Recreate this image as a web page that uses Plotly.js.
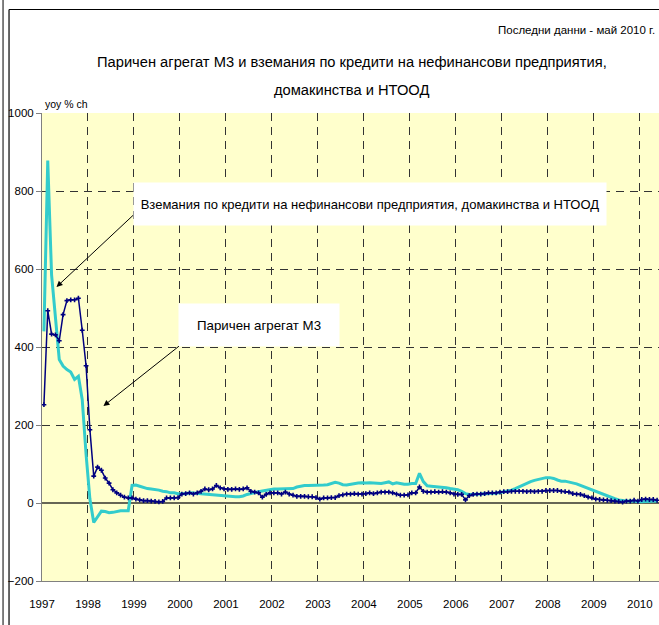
<!DOCTYPE html>
<html>
<head>
<meta charset="utf-8">
<script src="https://cdn.plot.ly/plotly-3.0.1.min.js"></script>
<style>html,body{margin:0;padding:0;background:#fff;}#chart{width:659px;height:625px;}</style>
</head>
<body>
<div id="chart"></div>
<script>
const years = ['1997','1998','1999','2000','2001','2002','2003','2004','2005','2006','2007','2008','2009','2010'];

const m3 = [
  252, 493, 433, 431, 416, 483, 519, 521, 521, 525, 443, 352,
  188, 69, 92, 84, 64, 51, 34, 26, 20, 15, 13, 13,
  10, 8, 6, 6, 5, 4, 3, 4, 13, 13, 13, 14,
  23, 24, 26, 23, 26, 30, 36, 34, 36, 45, 39, 36,
  35, 35, 36, 35, 36, 39, 30, 28, 26, 15, 22, 26,
  26, 26, 23, 28, 23, 20, 17, 17, 17, 16, 16, 14,
  10, 13, 13, 14, 14, 19, 21, 23, 23, 24, 23, 23,
  24, 26, 24, 26, 28, 28, 28, 26, 23, 20, 20, 21,
  26, 26, 41, 30, 28, 28, 29, 28, 29, 28, 26, 23,
  22, 22, 8, 19, 22, 23, 23, 24, 26, 26, 26, 28,
  29, 29, 30, 30, 30, 30, 29, 30, 29, 30, 30, 32,
  32, 32, 32, 30, 29, 28, 24, 23, 22, 19, 15, 13,
  10, 9, 8, 7, 6, 5, 4, 2, 5, 5, 7, 5,
  9, 10, 9, 9, 7
];

const credit = [
  440, 878, 585, 480, 368, 351, 342, 336, 317, 325, 265, 125,
  10, -50, -34, -21, -22, -25, -24, -22, -20, -20, -20, 45,
  46, 43, 39, 37, 36, 35, 33, 30, 29, 26, 26, 24,
  24, 24, 26, 26, 25, 24, 23, 22, 22, 20, 19, 18,
  18, 17, 16, 16, 18, 22, 25, 27, 29, 31, 33, 34,
  36, 36, 36, 36, 36, 37, 41, 44, 45, 45, 45, 45,
  45, 46, 47, 50, 53, 51, 47, 46, 48, 50, 51, 52,
  51, 52, 51, 50, 50, 52, 54, 49, 52, 50, 48, 48,
  50, 50, 76, 55, 44, 43, 42, 42, 41, 39, 37, 36,
  34, 30, 24, 22, 22, 23, 23, 24, 25, 25, 25, 27,
  28, 30, 33, 37, 42, 45, 50, 55, 58, 61, 63, 65,
  65, 63, 59, 56, 56, 54, 52, 49, 45, 41, 39, 35,
  30, 26, 22, 19, 15, 11, 8, 6, 5, 5, 4, 3,
  3, 4, 4, 5, 5
];

const titleLines = ['Паричен агрегат М3 и вземания по кредити на нефинансови предприятия,', 'домакинства и НТООД'];
const subtitle = 'Последни данни - май 2010 г.';
const unitLabel = 'yoy % ch';
const creditName = 'Вземания по кредити на нефинансови предприятия, домакинства и НТООД';
const m3Name = 'Паричен агрегат М3';

const FONT = '"Liberation Sans", Arial, sans-serif';
const W = 659, H = 625;
const L = 41.5, R = 659, T = 113, B = 581;
const xp = px => (px - L) / (R - L);
const yp = py => (B - py) / (B - T);

const idx = m3.map((_, i) => i);
const gridX = years.map((_, k) => k * 12 - 0.5);

const traces = [
  {x: idx, y: credit, type: 'scatter', mode: 'lines', name: creditName,
   line: {color: '#33CCCC', width: 3}},
  {x: idx, y: m3, type: 'scatter', mode: 'lines+markers', name: m3Name,
   line: {color: '#000080', width: 1.5},
   marker: {symbol: 'cross', size: 4, color: '#000080'}}
];

const layout = {
  width: W, height: H,
  margin: {l: L, r: W - R, t: T, b: H - B, pad: 0},
  paper_bgcolor: '#ffffff',
  plot_bgcolor: '#FFFFCC',
  showlegend: false,
  font: {family: FONT, size: 12, color: '#000'},
  xaxis: {
    range: [-0.5, m3.length - 0.5],
    tickmode: 'array', tickvals: gridX, ticktext: years,
    showgrid: true, gridcolor: '#333', griddash: '8px,6px', gridwidth: 1,
    zeroline: false,
    showline: true, linecolor: '#808080', linewidth: 1,
    ticks: 'outside', ticklen: 12, tickcolor: 'rgba(0,0,0,0)',
    tickfont: {family: FONT, size: 11.5, color: '#000'},
    fixedrange: true
  },
  yaxis: {
    range: [-200, 1000],
    tickmode: 'array', tickvals: [-200, 0, 200, 400, 600, 800, 1000],
    showgrid: false,
    minor: {tickmode: 'array', tickvals: [200, 400, 600, 800], showgrid: true,
            gridcolor: '#333', griddash: '8px,6px', gridwidth: 1, ticks: ''},
    zeroline: true, zerolinecolor: '#666655', zerolinewidth: 1.5,
    showline: true, linecolor: '#808080', linewidth: 1,
    ticks: 'outside', ticklen: 5, tickcolor: '#808080',
    tickfont: {family: FONT, size: 11.5, color: '#000'},
    fixedrange: true
  },
  shapes: [
    {type: 'line', xref: 'paper', yref: 'paper', x0: xp(2.5), x1: xp(2.5), y0: yp(0), y1: yp(H),
     line: {color: '#000', width: 1}},
    {type: 'line', xref: 'paper', yref: 'paper', x0: xp(8.5), x1: xp(8.5), y0: yp(9.5), y1: yp(H),
     line: {color: '#000', width: 1.2}},
    {type: 'line', xref: 'paper', yref: 'paper', x0: xp(8.5), x1: xp(W + 5), y0: yp(9.5), y1: yp(9.5),
     line: {color: '#000', width: 1.2}}
  ],
  annotations: [
    {xref: 'paper', yref: 'paper', x: xp(352), y: yp(62), text: titleLines[0], showarrow: false,
     xanchor: 'center', yanchor: 'middle', font: {family: FONT, size: 14.7, color: '#000'}},
    {xref: 'paper', yref: 'paper', x: xp(351), y: yp(90), text: titleLines[1], showarrow: false,
     xanchor: 'center', yanchor: 'middle', font: {family: FONT, size: 14.7, color: '#000'}},
    {xref: 'paper', yref: 'paper', x: xp(657), y: yp(30), text: subtitle, showarrow: false,
     xanchor: 'right', yanchor: 'middle', font: {family: FONT, size: 11.5, color: '#000'}},
    {xref: 'paper', yref: 'paper', x: xp(43), y: yp(104), text: unitLabel, showarrow: false,
     xanchor: 'left', yanchor: 'middle', font: {family: FONT, size: 10.5, color: '#000'}},
    {xref: 'paper', yref: 'paper', x: xp(370), y: yp(204), text: creditName, showarrow: false,
     xanchor: 'center', yanchor: 'middle', bgcolor: '#ffffff', width: 470, height: 40,
     font: {family: FONT, size: 13, color: '#000'}},
    {xref: 'paper', yref: 'paper', x: xp(259), y: yp(325), text: m3Name, showarrow: false,
     xanchor: 'center', yanchor: 'middle', bgcolor: '#ffffff', width: 158, height: 40,
     font: {family: FONT, size: 13.3, color: '#000'}},
    {xref: 'paper', yref: 'paper', x: xp(56), y: yp(287), text: '', showarrow: true,
     ax: 78, ay: -73, arrowhead: 2, arrowsize: 1.2, arrowwidth: 1, arrowcolor: '#000', standoff: 0},
    {xref: 'paper', yref: 'paper', x: xp(103), y: yp(406), text: '', showarrow: true,
     ax: 77, ay: -61, arrowhead: 2, arrowsize: 1.2, arrowwidth: 1, arrowcolor: '#000', standoff: 0}
  ]
};

Plotly.newPlot('chart', traces, layout, {staticPlot: true, displayModeBar: false});
</script>
</body>
</html>
